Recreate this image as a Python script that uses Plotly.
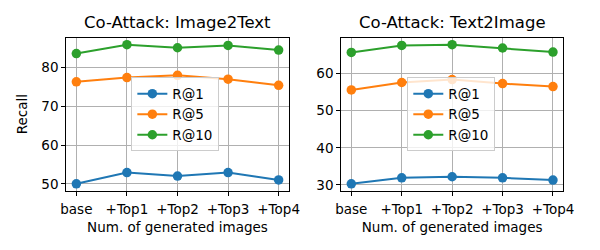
import plotly.graph_objects as go

categories = ["base", "+Top1", "+Top2", "+Top3", "+Top4"]
series_names = ["R@1", "R@5", "R@10"]
colors = ["#1f77b4", "#ff7f0e", "#2ca02c"]

i2t_r1 = [50.0, 52.9, 52.0, 52.9, 51.0]
i2t_r5 = [76.3, 77.4, 78.0, 77.0, 75.4]
i2t_r10 = [83.6, 85.9, 85.1, 85.7, 84.5]

t2i_r1 = [30.3, 31.9, 32.2, 31.9, 31.3]
t2i_r5 = [55.6, 57.6, 58.4, 57.3, 56.5]
t2i_r10 = [65.7, 67.6, 67.8, 66.9, 65.8]

titles = ["Co-Attack: Image2Text", "Co-Attack: Text2Image"]
xlabel = "Num. of generated images"
ylabel = "Recall"

FONT = "DejaVu Sans"
W, H = 600, 250

fig = go.Figure()

panels = [
    ([i2t_r1, i2t_r5, i2t_r10], "x", "y", "legend"),
    ([t2i_r1, t2i_r5, t2i_r10], "x2", "y2", "legend2"),
]
xs = list(range(len(categories)))
for vals, xa, ya, lg in panels:
    for name, v, c in zip(series_names, vals, colors):
        fig.add_trace(go.Scatter(
            x=xs, y=v, name=name, mode="lines+markers",
            line=dict(color=c, width=2), marker=dict(color=c, size=9.5),
            xaxis=xa, yaxis=ya, legend=lg,
        ))

def rng(arrs):
    lo = min(min(a) for a in arrs); hi = max(max(a) for a in arrs)
    m = (hi - lo) * 0.05
    return [lo - m, hi + m]

ax_common = dict(showline=True, linecolor="black", linewidth=1, mirror=True,
                 ticks="outside", ticklen=4, tickcolor="black",
                 showgrid=True, gridcolor="#b0b0b0", gridwidth=1, zeroline=False,
                 tickfont=dict(family=FONT, size=13.5, color="black"))

px = lambda p: p / W
py = lambda p: 1 - p / H

fig.update_layout(
    width=W, height=H, margin=dict(l=0, r=0, t=0, b=0),
    plot_bgcolor="white", paper_bgcolor="white",
    font=dict(family=FONT, color="black"),
    xaxis=dict(domain=[px(62), px(291)], range=[-0.2, 4.2], tickvals=xs, ticktext=categories,
               anchor="y", ticklabelstandoff=2,
               title=dict(text=xlabel, font=dict(size=13.5), standoff=6), **ax_common),
    yaxis=dict(domain=[py(192.3), py(38)], range=rng([i2t_r1, i2t_r5, i2t_r10]), dtick=10,
               anchor="x", title=dict(text=ylabel, font=dict(size=13.5), standoff=10), **ax_common),
    xaxis2=dict(domain=[px(345), px(573.3)], range=[-0.2, 4.2], tickvals=xs, ticktext=categories,
                anchor="y2", ticklabelstandoff=2,
                title=dict(text=xlabel, font=dict(size=13.5), standoff=6), **ax_common),
    yaxis2=dict(domain=[py(192.3), py(38)], range=rng([t2i_r1, t2i_r5, t2i_r10]), dtick=10,
                anchor="x2", **ax_common),
    legend=dict(x=px(129), y=py(78), xanchor="left", yanchor="top",
                bgcolor="rgba(255,255,255,0.8)", bordercolor="#cccccc", borderwidth=1,
                font=dict(family=FONT, size=13.5)),
    legend2=dict(x=px(413), y=py(78), xanchor="left", yanchor="top",
                 bgcolor="rgba(255,255,255,0.8)", bordercolor="#cccccc", borderwidth=1,
                 font=dict(family=FONT, size=13.5)),
    showlegend=True,
)

for t, cx in zip(titles, [(62 + 291) / 2, (345 + 573.3) / 2]):
    fig.add_annotation(text=t, x=px(cx), y=py(23), xref="paper", yref="paper",
                       xanchor="center", yanchor="middle", showarrow=False,
                       font=dict(family=FONT, size=16.5, color="black"))

fig.write_html("out.html", config={"displayModeBar": False},
               post_script="document.body.style.margin='0px';")
